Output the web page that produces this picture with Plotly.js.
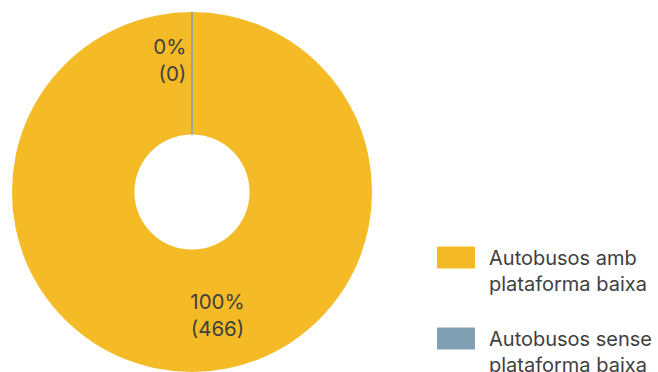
<!DOCTYPE html>
<html><head><meta charset="utf-8">
<script src="https://cdn.plot.ly/plotly-3.0.1.min.js"></script>
<style>html,body{margin:0;padding:0;background:#fff;overflow:hidden;width:658px;height:372px;}#chart{width:700px;height:400px;}</style>
</head><body><div id="chart"></div>
<script>
const labels = ["Autobusos amb<br>plataforma baixa", "Autobusos sense<br>plataforma baixa"];
const values = [466, 0];
const colors = ["#F4BB26", "#819FB3"];

const FONT = "Inter, Roboto, 'DejaVu Sans', sans-serif";
const TXT = "#404040";
const W = 700, H = 400;   // paper larger than the 658x372 window: legend runs off the edges like the original
const total = values.reduce((a,b)=>a+b,0);
const pct = values.map(v => Math.round(v/total*100) + "%");
const startAng = []; let acc = 0;
values.forEach(v => { startAng.push(acc/total*360); acc += v; });
const midAng = values.map((v,i) => startAng[i] + v/total*180);

const HOLE = 0.32;
const DOM = {x: [12/W, 372/W], y: [(H-372)/H, (H-12)/H]};

const pie = {
  type: "pie",
  labels: labels.map((l,i) => i === 0 ? l + "<br> " : l),
  values: values,
  hole: HOLE,
  sort: false,
  direction: "clockwise",
  rotation: 0,
  marker: {colors: colors, line: {width: 0}},
  textinfo: "none",
  domain: DOM,
  showlegend: true,
  hoverinfo: "label+value+percent"
};

const divider = {
  type: "scatterpolar", subplot: "polar",
  mode: "lines",
  r: [HOLE, 1],
  theta: [startAng[1], startAng[1]],
  line: {color: colors[1], width: 1.5},
  showlegend: false, hoverinfo: "skip"
};

const lab100 = {
  type: "scatterpolar", subplot: "polar",
  mode: "text",
  r: [0.71], theta: [midAng[0] - 11.5],
  text: [pct[0] + "<br>(" + values[0] + ")"],
  textposition: "middle center",
  textfont: {family: FONT, size: 20.5, color: TXT},
  showlegend: false, hoverinfo: "skip"
};
const lab0 = {
  type: "scatterpolar", subplot: "polar",
  mode: "text",
  r: [0.72], theta: [midAng[1] - 2.5],
  text: [pct[1] + "<br>(" + values[1] + ")"],
  textposition: "middle left",
  textfont: {family: FONT, size: 20.5, color: TXT},
  showlegend: false, hoverinfo: "skip"
};

const layout = {
  width: W, height: H,
  margin: {l: 0, r: 0, t: 0, b: 0},
  paper_bgcolor: "#fff",
  showlegend: true,
  polar: {
    domain: DOM, bgcolor: "rgba(0,0,0,0)",
    radialaxis: {visible: false, range: [0, 1]},
    angularaxis: {visible: false, rotation: 90, direction: "clockwise"}
  },
  legend: {x: 429/W, y: 1 - 238/H, xanchor: "left", yanchor: "top",
    itemwidth: 50,
    font: {family: FONT, size: 20, color: TXT}, valign: "top",
    bgcolor: "rgba(0,0,0,0)"}
};
Plotly.newPlot("chart", [pie, divider, lab100, lab0], layout, {displayModeBar: false, staticPlot: true})
.then(gd => {
  const pl = document.querySelector(".pielayer");
  const po = document.querySelector(".polarlayer");
  if (pl && po) po.parentNode.insertBefore(pl, po);
  document.querySelectorAll(".legend g.traces").forEach(g => {
    const p = g.querySelector(".legendpoints path");
    const t = g.querySelector("text.legendtext");
    if (!p || !t) return;
    const pb = p.getBoundingClientRect();
    const tb = t.getBoundingClientRect();
    const cx = pb.left + pb.width/2;
    const l = (tb.left - 52) - cx, r = (tb.left - 14) - cx;
    p.setAttribute("d", `M${r},11H${l}V-11H${r}Z`);
  });
});
</script></body></html>
